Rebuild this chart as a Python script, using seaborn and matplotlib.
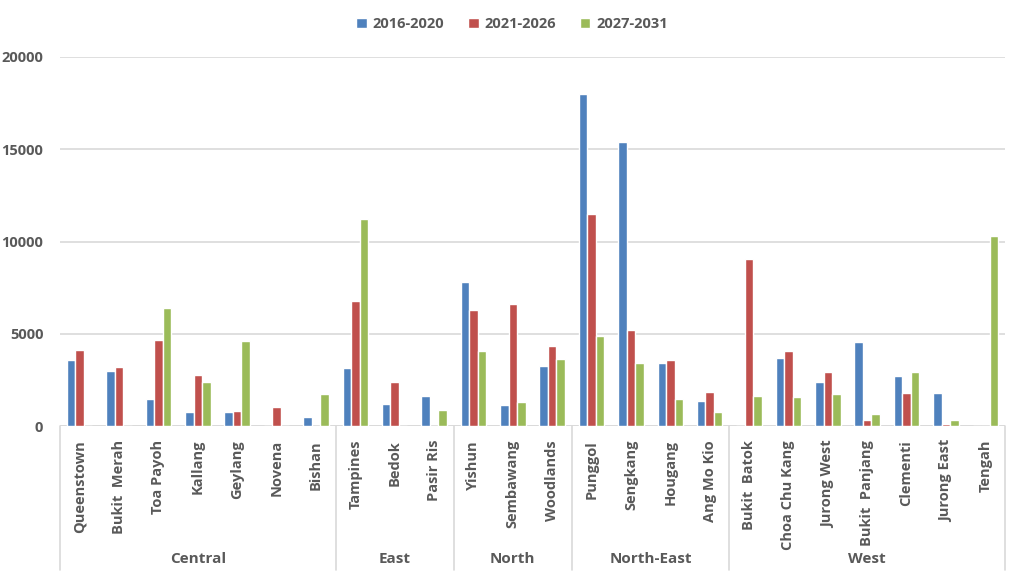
import pandas as pd
import numpy as np
import matplotlib
matplotlib.use("Agg")
import matplotlib.pyplot as plt
import seaborn as sns

# Planning areas grouped by region
towns = ['Queenstown', 'Bukit  Merah', 'Toa Payoh', 'Kallang', 'Geylang', 'Novena', 'Bishan',
         'Tampines', 'Bedok', 'Pasir Ris',
         'Yishun', 'Sembawang', 'Woodlands',
         'Punggol', 'Sengkang', 'Hougang', 'Ang Mo Kio',
         'Bukit  Batok', 'Choa Chu Kang', 'Jurong West', 'Bukit  Panjang', 'Clementi', 'Jurong East', 'Tengah']
regions = ['Central', 'East', 'North', 'North-East', 'West']
region_sizes = [7, 3, 3, 4, 7]

periods = ['2016-2020', '2021-2026', '2027-2031']
v_2016_2020 = [3600, 3000, 1450, 740, 780, 0, 490,
               3170, 1190, 1600,
               7800, 1120, 3240,
               18000, 15400, 3440, 1350,
               0, 3660, 2380, 4560, 2690, 1800, 0]
v_2021_2026 = [4140, 3200, 4660, 2750, 830, 1030, 0,
               6750, 2380, 0,
               6300, 6630, 4360,
               11500, 5190, 3580, 1840,
               9060, 4040, 2900, 320, 1800, 100, 0]
v_2027_2031 = [0, 0, 6400, 2360, 4610, 0, 1710,
               11200, 0, 870,
               4070, 1300, 3640,
               4860, 3440, 1460, 740,
               1600, 1550, 1710, 630, 2900, 320, 10320]

colors = ['#4F81BD', '#C0504D', '#9BBB59']
grey = '#595959'

df = pd.DataFrame({'town': towns, periods[0]: v_2016_2020,
                   periods[1]: v_2021_2026, periods[2]: v_2027_2031})
long_df = df.melt(id_vars='town', var_name='period', value_name='units')

sns.set_style('white')
plt.rcParams['font.family'] = ['Open Sans', 'DejaVu Sans']
plt.rcParams['font.weight'] = 'bold'

fig = plt.figure(figsize=(10.24, 5.76), dpi=100)
ax = fig.add_axes([60 / 1024, 1 - 426 / 576, 945 / 1024, 369 / 576])

sns.barplot(data=long_df, x='town', y='units', hue='period', order=towns,
            hue_order=periods, palette=dict(zip(periods, colors)), saturation=1,
            width=0.65, edgecolor='white', linewidth=1, ax=ax, legend=True)

ax.set_ylim(0, 20000)
ax.set_xlim(-0.5, len(towns) - 0.5)
ax.set_yticks([0, 5000, 10000, 15000, 20000])
ax.yaxis.grid(True, color='#D9D9D9', linewidth=1.2)
ax.set_axisbelow(True)
for s in ax.spines.values():
    s.set_visible(False)
ax.axhline(0, color='#D9D9D9', linewidth=1.2, zorder=0)
ax.set_xlabel('')
ax.set_ylabel('')
ax.tick_params(axis='y', length=0, pad=12, labelsize=10.5, labelcolor=grey)
ax.tick_params(axis='x', length=0, pad=10, labelsize=10.5, labelcolor=grey)
ax.set_xticks(range(len(towns)))
ax.set_xticklabels(towns, rotation=90, va='top', ha='center')

# region separators and labels under the axis
trans = ax.get_xaxis_transform()
bounds = np.concatenate([[0], np.cumsum(region_sizes)]) - 0.5
for b in bounds:
    ax.plot([b, b], [0, -0.39], color='#D9D9D9', linewidth=1.2,
            transform=trans, clip_on=False)
for i, r in enumerate(regions):
    mid = (bounds[i] + bounds[i + 1]) / 2
    ax.text(mid, -0.36, r, transform=trans, ha='center', va='center',
            fontsize=11, color=grey, fontweight='bold')

ax.legend(loc='upper center', bbox_to_anchor=(0.5, 0.993), bbox_transform=fig.transFigure,
          ncol=3, frameon=False, fontsize=10.5, handlelength=0.75, handleheight=0.75,
          handletextpad=0.4, columnspacing=1.6, labelcolor=grey)

fig.savefig('out.png', dpi=100)
